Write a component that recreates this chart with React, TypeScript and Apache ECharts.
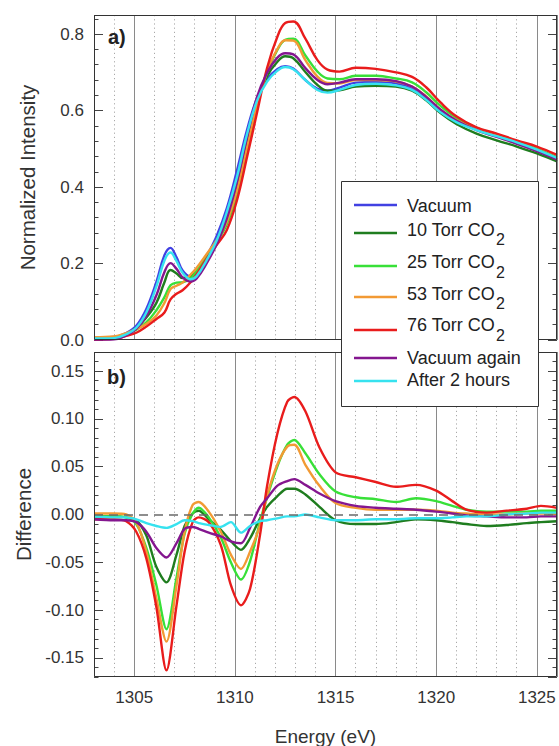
import React, { useEffect, useRef } from 'react';
import * as echarts from 'echarts';

// ---------- data ----------
const energyTop = [1303, 1304, 1304.6, 1305.1, 1305.6, 1306.1, 1306.5, 1306.8, 1307.1, 1307.4, 1307.8, 1308.1, 1308.6, 1309.1, 1309.6, 1310.1, 1310.6, 1311.1, 1311.6, 1312.1, 1312.5, 1312.9, 1313.5, 1314.1, 1314.6, 1315.2, 1316, 1317, 1318, 1318.8, 1319.5, 1320.2, 1321, 1322, 1323, 1324, 1325, 1326];

const vacuumTop = [0.006, 0.008, 0.018, 0.037, 0.081, 0.152, 0.222, 0.241, 0.216, 0.182, 0.166, 0.176, 0.220, 0.273, 0.345, 0.443, 0.549, 0.633, 0.682, 0.708, 0.716, 0.710, 0.680, 0.657, 0.652, 0.660, 0.673, 0.675, 0.671, 0.658, 0.632, 0.600, 0.573, 0.551, 0.534, 0.516, 0.496, 0.474];
const torr10Top = [0.004, 0.006, 0.015, 0.031, 0.059, 0.097, 0.151, 0.183, 0.174, 0.162, 0.166, 0.180, 0.217, 0.261, 0.321, 0.408, 0.519, 0.625, 0.690, 0.727, 0.742, 0.737, 0.701, 0.667, 0.652, 0.653, 0.663, 0.665, 0.663, 0.652, 0.627, 0.594, 0.565, 0.540, 0.522, 0.506, 0.488, 0.467];
const torr25Top = [0.004, 0.006, 0.015, 0.027, 0.046, 0.078, 0.112, 0.143, 0.150, 0.151, 0.161, 0.181, 0.219, 0.256, 0.303, 0.381, 0.494, 0.615, 0.700, 0.758, 0.785, 0.788, 0.744, 0.702, 0.684, 0.682, 0.691, 0.691, 0.684, 0.674, 0.648, 0.613, 0.581, 0.555, 0.537, 0.519, 0.500, 0.478];
const torr53Top = [0.007, 0.009, 0.018, 0.029, 0.042, 0.064, 0.097, 0.133, 0.142, 0.150, 0.171, 0.189, 0.225, 0.262, 0.310, 0.391, 0.504, 0.616, 0.702, 0.760, 0.784, 0.783, 0.732, 0.689, 0.672, 0.671, 0.680, 0.680, 0.676, 0.663, 0.637, 0.603, 0.575, 0.551, 0.534, 0.516, 0.497, 0.475];
const torr76Top = [0.001, 0.003, 0.011, 0.019, 0.035, 0.055, 0.072, 0.106, 0.121, 0.130, 0.151, 0.172, 0.213, 0.249, 0.288, 0.365, 0.478, 0.595, 0.712, 0.792, 0.829, 0.833, 0.788, 0.732, 0.707, 0.702, 0.712, 0.709, 0.700, 0.688, 0.661, 0.622, 0.585, 0.556, 0.540, 0.522, 0.506, 0.484];
const vacAgainTop = [0.001, 0.002, 0.012, 0.029, 0.063, 0.117, 0.178, 0.201, 0.186, 0.164, 0.153, 0.161, 0.201, 0.251, 0.318, 0.413, 0.529, 0.636, 0.699, 0.738, 0.750, 0.747, 0.711, 0.680, 0.669, 0.673, 0.682, 0.682, 0.677, 0.663, 0.636, 0.603, 0.574, 0.549, 0.531, 0.513, 0.494, 0.472];
const after2hTop = [0.004, 0.005, 0.015, 0.032, 0.072, 0.140, 0.208, 0.229, 0.206, 0.176, 0.159, 0.167, 0.209, 0.261, 0.335, 0.426, 0.538, 0.626, 0.676, 0.704, 0.714, 0.708, 0.680, 0.654, 0.647, 0.654, 0.667, 0.670, 0.666, 0.654, 0.628, 0.596, 0.570, 0.549, 0.533, 0.517, 0.498, 0.476];

const energyDiff = [1303, 1304, 1304.6, 1305.1, 1305.6, 1306.1, 1306.6, 1307.1, 1307.5, 1307.9, 1308.2, 1308.7, 1309.3, 1309.8, 1310.3, 1310.75, 1311.25, 1311.6, 1312.1, 1312.6, 1312.95, 1313.5, 1314.2, 1315, 1316, 1317, 1318, 1319, 1320, 1320.8, 1321.5, 1322.5, 1323.5, 1324.5, 1325.2, 1326];

const torr10Diff = [-0.002, -0.002, -0.003, -0.006, -0.022, -0.055, -0.071, -0.042, -0.012, 0.001, 0.004, -0.005, -0.016, -0.028, -0.037, -0.025, -0.004, 0.008, 0.019, 0.027, 0.027, 0.021, 0.008, -0.006, -0.010, -0.010, -0.008, -0.005, -0.006, -0.008, -0.010, -0.012, -0.011, -0.009, -0.008, -0.007];
const torr25Diff = [-0.002, -0.002, -0.003, -0.010, -0.035, -0.074, -0.120, -0.066, -0.020, 0.001, 0.007, -0.003, -0.024, -0.050, -0.068, -0.049, -0.007, 0.018, 0.050, 0.073, 0.078, 0.064, 0.042, 0.024, 0.018, 0.016, 0.013, 0.017, 0.014, 0.009, 0.005, 0.003, 0.003, 0.003, 0.004, 0.004];
const torr53Diff = [0.001, 0.001, 0.000, -0.008, -0.039, -0.088, -0.133, -0.074, -0.018, 0.010, 0.013, 0.003, -0.018, -0.042, -0.057, -0.039, -0.011, 0.020, 0.052, 0.071, 0.073, 0.052, 0.030, 0.012, 0.007, 0.005, 0.005, 0.005, 0.004, 0.002, 0.001, 0.000, 0.000, 0.001, 0.001, 0.001];
const torr76Diff = [-0.005, -0.005, -0.007, -0.018, -0.046, -0.097, -0.163, -0.095, -0.039, -0.008, -0.003, -0.008, -0.032, -0.074, -0.095, -0.078, -0.021, 0.030, 0.084, 0.118, 0.123, 0.108, 0.070, 0.044, 0.039, 0.034, 0.029, 0.031, 0.025, 0.014, 0.005, 0.002, 0.004, 0.006, 0.009, 0.007];
const vacAgainDiff = [-0.005, -0.006, -0.006, -0.008, -0.018, -0.035, -0.045, -0.030, -0.015, -0.013, -0.015, -0.019, -0.023, -0.028, -0.030, -0.014, 0.008, 0.017, 0.030, 0.035, 0.037, 0.031, 0.022, 0.014, 0.009, 0.007, 0.006, 0.005, 0.003, 0.001, -0.001, -0.002, -0.003, -0.003, -0.002, -0.002];
const after2hDiff = [-0.002, -0.003, -0.003, -0.005, -0.009, -0.012, -0.014, -0.010, -0.006, -0.007, -0.009, -0.011, -0.013, -0.008, -0.019, -0.012, -0.007, -0.006, -0.004, -0.002, -0.002, 0.000, -0.003, -0.006, -0.006, -0.005, -0.005, -0.004, -0.004, -0.003, -0.002, -0.002, 0.000, 0.001, 0.002, 0.002];

const seriesNames = ['Vacuum', '10 Torr CO2', '25 Torr CO2', '53 Torr CO2', '76 Torr CO2', 'Vacuum again', 'After 2 hours'];
const topValues = [vacuumTop, torr10Top, torr25Top, torr53Top, torr76Top, vacAgainTop, after2hTop];
const diffValues: (number[] | null)[] = [null, torr10Diff, torr25Diff, torr53Diff, torr76Diff, vacAgainDiff, after2hDiff];

// ---------- styles / layout ----------
const seriesColors = ['#4141e2', '#1f7d1f', '#38e038', '#f29a34', '#e91c1c', '#84168f', '#36e2ef'];
const FONT = "'Liberation Sans', Arial, Helvetica, sans-serif";
const TOP = { left: 94, top: 15, width: 463, height: 325 };
const BOT = { left: 94, top: 352, width: 463, height: 325 };
const LEGEND_BOX = { x: 341, y: 181, w: 198, h: 226 };
const legendLineY = [205, 233, 266, 297, 330, 358, 381];
const legendTextY = [205.5, 229.5, 262, 293.5, 325, 358, 380];

function xMinor(gridIndex: number) {
  return {
    type: 'value', gridIndex, min: 1303, max: 1326, interval: 1, position: 'top',
    axisLine: { show: false }, axisTick: { show: false }, axisLabel: { show: false },
    splitLine: { show: true, lineStyle: { color: '#a9a9a9', width: 1, type: [1.2, 3] } },
  };
}
function xMajor(gridIndex: number, labels: boolean) {
  return {
    type: 'value', gridIndex, min: 1303, max: 1326, splitNumber: 5, minInterval: 5, maxInterval: 5, position: 'bottom',
    axisLine: { show: false }, axisTick: { show: false },
    axisLabel: {
      show: labels, showMinLabel: false, showMaxLabel: false,
      formatter: (v: number) => (Math.abs(v % 5) < 1e-9 ? String(Math.round(v)) : ''),
      fontSize: 17, fontFamily: FONT, color: '#333', margin: 12,
    },
    splitLine: { show: true, lineStyle: { color: '#8a8a8a', width: 1, type: 'solid' } },
    name: labels ? 'Energy (eV)' : '', nameLocation: 'middle', nameGap: 50,
    nameTextStyle: { fontSize: 19, fontFamily: FONT, color: '#333' },
  };
}
function yAxisDef(o: any) {
  const base: any = {
    type: 'value', gridIndex: o.gridIndex, position: o.position, min: o.min, max: o.max,
    axisLine: { show: false }, splitLine: { show: false },
    axisTick: { show: true, inside: true, length: o.len, lineStyle: { color: '#444', width: 1 } },
    axisLabel: { show: false },
  };
  if (o.interval != null) base.interval = o.interval;
  if (o.step != null) { base.splitNumber = o.splitNumber; base.minInterval = o.step; base.maxInterval = o.step; }
  if (o.labels) {
    base.axisLabel = {
      show: true, showMinLabel: o.showMin, showMaxLabel: false,
      formatter: (v: number) => v.toFixed(o.digits),
      fontSize: 17, fontFamily: FONT, color: '#333', margin: 10,
    };
    base.name = o.name; base.nameLocation = 'middle'; base.nameGap = o.nameGap;
    base.nameTextStyle = { fontSize: 20.5, fontFamily: FONT, color: '#333' };
  }
  return base;
}

function buildOption() {
  const series: any[] = [];
  seriesNames.forEach((name, i) => {
    series.push({
      name, type: 'line', xAxisIndex: 1, yAxisIndex: 0, showSymbol: false, smooth: 0.4,
      data: energyTop.map((e, k) => [e, topValues[i][k]]),
      lineStyle: { color: seriesColors[i], width: 2.4 }, itemStyle: { color: seriesColors[i] },
      silent: true,
    });
  });
  let first = true;
  seriesNames.forEach((name, i) => {
    const vals = diffValues[i];
    if (!vals) return;
    const s: any = {
      name: name + ' (diff)', type: 'line', xAxisIndex: 3, yAxisIndex: 4, showSymbol: false, smooth: 0.3,
      data: energyDiff.map((e, k) => [e, vals[k]]),
      lineStyle: { color: seriesColors[i], width: 2.4 }, itemStyle: { color: seriesColors[i] },
      silent: true,
    };
    if (first) {
      s.markLine = {
        silent: true, symbol: ['none', 'none'], label: { show: false },
        lineStyle: { type: [9, 6], color: '#6a6a6a', width: 1.6 },
        data: [{ yAxis: 0 }],
      };
      first = false;
    }
    series.push(s);
  });

  const elements: any[] = [
    { type: 'rect', silent: true, z: 100, shape: { x: TOP.left + 0.5, y: TOP.top + 0.5, width: TOP.width - 1, height: TOP.height - 1 }, style: { fill: 'none', stroke: '#333', lineWidth: 1 } },
    { type: 'rect', silent: true, z: 100, shape: { x: BOT.left + 0.5, y: BOT.top + 0.5, width: BOT.width - 1, height: BOT.height - 1 }, style: { fill: 'none', stroke: '#333', lineWidth: 1 } },
    { type: 'text', z: 101, x: 108, y: 37, style: { text: 'a)', fontSize: 20, fontWeight: 'bold', fontFamily: FONT, fill: '#222', align: 'left', verticalAlign: 'middle' } },
    { type: 'text', z: 101, x: 107, y: 377, style: { text: 'b)', fontSize: 20, fontWeight: 'bold', fontFamily: FONT, fill: '#222', align: 'left', verticalAlign: 'middle' } },
    { type: 'rect', silent: true, z: 110, shape: { x: LEGEND_BOX.x + 0.5, y: LEGEND_BOX.y + 0.5, width: LEGEND_BOX.w - 1, height: LEGEND_BOX.h - 1 }, style: { fill: '#fff', stroke: '#333', lineWidth: 1 } },
  ];
  seriesNames.forEach((name, i) => {
    elements.push({
      type: 'line', silent: true, z: 111,
      shape: { x1: 354, y1: legendLineY[i], x2: 397, y2: legendLineY[i] },
      style: { stroke: seriesColors[i], lineWidth: 2.6 },
    });
    const sub = name.endsWith('CO2');
    elements.push({
      type: 'text', z: 111, x: 407, y: sub ? legendTextY[i] + 4.5 : legendTextY[i],
      style: {
        text: sub ? `{n|${name.slice(0, -1)}}{s|2}` : name,
        fontSize: 18, fontFamily: FONT, fill: '#222', align: 'left', verticalAlign: 'middle',
        rich: sub ? {
          n: { fontSize: 18, fontFamily: FONT, fill: '#222', verticalAlign: 'top' },
          s: { fontSize: 16, fontFamily: FONT, fill: '#222', verticalAlign: 'top', padding: [11, 0, 0, 1] },
        } : undefined,
      },
    });
  });

  return {
    animation: false,
    backgroundColor: '#ffffff',
    grid: [
      { ...TOP, show: false, containLabel: false, outerBoundsMode: 'none' },
      { ...BOT, show: false, containLabel: false, outerBoundsMode: 'none' },
    ],
    xAxis: [xMinor(0), xMajor(0, false), xMinor(1), xMajor(1, true)],
    yAxis: [
      yAxisDef({ gridIndex: 0, position: 'left', min: 0, max: 0.85, interval: 0.2, len: 9, labels: true, showMin: true, digits: 1, name: 'Normalized Intensity', nameGap: 56 }),
      yAxisDef({ gridIndex: 0, position: 'left', min: 0, max: 0.85, interval: 0.04, len: 4.5 }),
      yAxisDef({ gridIndex: 0, position: 'right', min: 0, max: 0.85, interval: 0.2, len: 9 }),
      yAxisDef({ gridIndex: 0, position: 'right', min: 0, max: 0.85, interval: 0.04, len: 4.5 }),
      yAxisDef({ gridIndex: 1, position: 'left', min: -0.17, max: 0.17, step: 0.05, splitNumber: 7, len: 9, labels: true, showMin: false, digits: 2, name: 'Difference', nameGap: 58 }),
      yAxisDef({ gridIndex: 1, position: 'left', min: -0.17, max: 0.17, interval: 0.01, len: 4.5 }),
      yAxisDef({ gridIndex: 1, position: 'right', min: -0.17, max: 0.17, step: 0.05, splitNumber: 7, len: 9 }),
      yAxisDef({ gridIndex: 1, position: 'right', min: -0.17, max: 0.17, interval: 0.01, len: 4.5 }),
    ],
    series,
    graphic: { elements },
  };
}

export default function App() {
  const ref = useRef<HTMLDivElement>(null);
  useEffect(() => {
    if (!ref.current) return;
    const chart = echarts.init(ref.current, undefined, { renderer: 'svg' });
    chart.setOption(buildOption() as any);
    return () => chart.dispose();
  }, []);
  return (
    <div
      ref={ref}
      style={{ position: 'fixed', left: 0, top: 0, width: 559, height: 746, background: '#fff' }}
    />
  );
}
